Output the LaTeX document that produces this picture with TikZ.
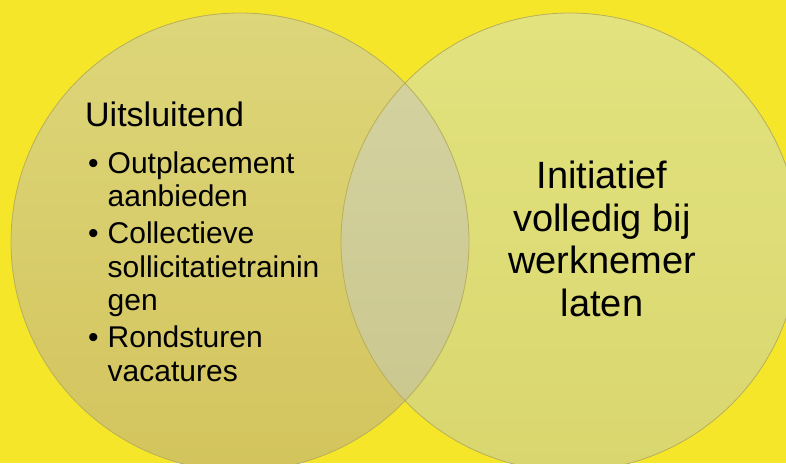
\documentclass[tikz,border=0pt]{standalone}
\usepackage{fontspec}
\setmainfont{Liberation Sans}
\definecolor{bgyellow}{HTML}{F5E62A}
\definecolor{lefttop}{HTML}{DDD67A}
\definecolor{leftbot}{HTML}{D3C45D}
\definecolor{righttop}{HTML}{E2E37F}
\definecolor{rightbot}{HTML}{D9D66E}
\definecolor{midtop}{HTML}{D5D4A2}
\definecolor{midbot}{HTML}{C9C58C}
\definecolor{rim}{HTML}{B8AF5A}
\begin{document}
\begin{tikzpicture}[x=1pt, y=-1pt,
    rimline/.style={draw=rim, line width=0.8pt},
    headtext/.style={anchor=base west, inner sep=0pt, font=\fontsize{34}{40}\selectfont},
    itemtext/.style={anchor=base west, inner sep=0pt, font=\fontsize{30}{33.5}\selectfont},
    bigtext/.style={anchor=base, inner sep=0pt, font=\fontsize{38}{42.7}\selectfont}]
    \useasboundingbox (0,0) rectangle (786,463);
    \fill[bgyellow] (0,0) rectangle (786,463);

    \shade[top color=lefttop, bottom color=leftbot] (240,242) circle (229);
    \shade[top color=righttop, bottom color=rightbot] (570,242) circle (229);
    \begin{scope}
        \clip (240,242) circle (229);
        \shade[top color=midtop, bottom color=midbot] (570,242) circle (229);
    \end{scope}
    \draw[rimline] (240,242) circle (229);
    \draw[rimline] (570,242) circle (229);

    \node[headtext] (head) at (85,126) {Uitsluitend};
    \node[itemtext] (items) at (88,173.3) {%
        \begin{tabular}[t]{@{}l@{\hspace{9pt}}l@{}}
        \textbullet & Outplacement\\
                    & aanbieden\\[3.5pt]
        \textbullet & Collectieve\\
                    & sollicitatietrainin\\
                    & gen\\[3.5pt]
        \textbullet & Rondsturen\\
                    & vacatures
        \end{tabular}};
    \node[bigtext] (init) at (602,188.3) {%
        \begin{tabular}[t]{@{}c@{}}
        Initiatief\\ volledig bij\\ werknemer\\ laten
        \end{tabular}};
\end{tikzpicture}
\end{document}
